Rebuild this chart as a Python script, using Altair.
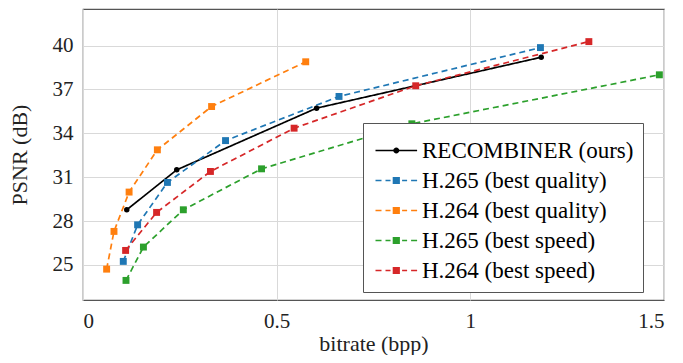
import altair as alt
import pandas as pd

series_names = [
    "RECOMBINER (ours)",
    "H.265 (best quality)",
    "H.264 (best quality)",
    "H.265 (best speed)",
    "H.264 (best speed)",
]
series_colors = ["#000000", "#1f77b4", "#ff7f0e", "#2ca02c", "#d62728"]

recombiner_bpp = [0.113, 0.242, 0.603, 1.183]
recombiner_psnr = [28.77, 31.5, 35.72, 39.2]

h265q_bpp = [0.104, 0.141, 0.218, 0.368, 0.661, 1.181]
h265q_psnr = [25.24, 27.74, 30.64, 33.5, 36.52, 39.86]

h264q_bpp = [0.061, 0.080, 0.119, 0.192, 0.332, 0.575]
h264q_psnr = [24.71, 27.29, 29.98, 32.87, 35.83, 38.89]

h265s_bpp = [0.111, 0.156, 0.259, 0.461, 0.849, 1.488]
h265s_psnr = [23.94, 26.22, 28.77, 31.57, 34.65, 38.0]

h264s_bpp = [0.110, 0.190, 0.329, 0.545, 0.859, 1.306]
h264s_psnr = [25.99, 28.59, 31.39, 34.35, 37.25, 40.27]

x_ticks = [0, 0.5, 1, 1.5]
y_ticks = [25, 28, 31, 34, 37, 40]

rows = []
for k, (xs, ys) in enumerate([
    (recombiner_bpp, recombiner_psnr),
    (h265q_bpp, h265q_psnr),
    (h264q_bpp, h264q_psnr),
    (h265s_bpp, h265s_psnr),
    (h264s_bpp, h264s_psnr),
]):
    name = series_names[k]
    for i, (x, y) in enumerate(zip(xs, ys)):
        rows.append({
            "series": name,
            "hex": series_colors[k],
            "bpp": x,
            "psnr": y,
            "order": i,
            "marker": "circle" if k == 0 else "square",
            "dashed": "solid" if k == 0 else "dashed",
        })
df = pd.DataFrame(rows)

# legend symbol glyphs (unit coordinates, scaled by sqrt(symbolSize)/2)
solid_glyph = (
    "M-1,-0.1 L4.2,-0.1 L4.2,0.1 L-1,0.1 Z "
    "M1.975,0 A0.375,0.375 0 1,1 1.225,0 A0.375,0.375 0 1,1 1.975,0 Z"
)
dash_glyph = (
    "M-1,-0.1 L-0.25,-0.1 L-0.25,0.1 L-1,0.1 Z "
    "M0.25,-0.1 L0.875,-0.1 L0.875,0.1 L0.25,0.1 Z "
    "M1.15,-0.45 L2.05,-0.45 L2.05,0.45 L1.15,0.45 Z "
    "M2.325,-0.1 L2.95,-0.1 L2.95,0.1 L2.325,0.1 Z "
    "M3.45,-0.1 L4.2,-0.1 L4.2,0.1 L3.45,0.1 Z"
)
glyphs = [solid_glyph] + [dash_glyph] * 4

FONT = "Liberation Serif"

x_enc = alt.X(
    "bpp:Q",
    scale=alt.Scale(domain=[0, 1.5], nice=False, zero=False),
    axis=alt.Axis(values=x_ticks, format="~g", title="bitrate (bpp)"),
)
y_enc = alt.Y(
    "psnr:Q",
    scale=alt.Scale(domain=[22.6, 42.5], nice=False, zero=False),
    axis=alt.Axis(values=y_ticks, title="PSNR (dB)"),
)

lines = alt.Chart(df).mark_line(strokeWidth=1.7).encode(
    x=x_enc,
    y=y_enc,
    color=alt.Color("hex:N", scale=None),
    strokeDash=alt.StrokeDash(
        "dashed:N",
        scale=alt.Scale(domain=["solid", "dashed"], range=[[1, 0], [6, 4]]),
        legend=None,
    ),
    detail="series:N",
    order="order:Q",
)

points = alt.Chart(df).mark_point(filled=True, opacity=1).encode(
    x=x_enc,
    y=y_enc,
    color=alt.Color("hex:N", scale=None),
    shape=alt.Shape("marker:N", scale=None),
    size=alt.Size(
        "marker:N",
        scale=alt.Scale(domain=["circle", "square"], range=[30, 48]),
        legend=None,
    ),
)

legend_spec = dict(
    title=" ",
    titleFontSize=6,
    titlePadding=1,
    orient="none",
    legendX=280,
    legendY=114,
    padding=9,
    strokeColor="#555555",
    fillColor="white",
    labelFont=FONT,
    labelFontSize=23,
    labelColor="black",
    labelLimit=400,
    labelOffset=27,
    symbolSize=256,
    rowPadding=6,
)

legend_layer = alt.Chart(df).mark_point(filled=True, opacity=0).encode(
    x=x_enc,
    y=y_enc,
    color=alt.Color(
        "series:N",
        scale=alt.Scale(domain=series_names, range=series_colors),
        legend=alt.Legend(**legend_spec),
    ),
    shape=alt.Shape(
        "series:N",
        scale=alt.Scale(domain=series_names, range=glyphs),
        legend=alt.Legend(**legend_spec),
    ),
)

chart = (
    alt.layer(lines, points, legend_layer)
    .properties(
        width=581,
        height=291,
        autosize=alt.AutoSizeParams(type="none"),
        padding={"left": 75, "top": 1, "right": 11, "bottom": 55},
    )
    .configure_view(stroke="#555555", strokeWidth=1.2)
    .configure_axis(
        grid=True,
        gridColor="#d9d9d9",
        gridWidth=1,
        domain=False,
        ticks=False,
        labelFont=FONT,
        labelFontSize=21,
        labelColor="#222222",
        labelPadding=10,
        titleFont=FONT,
        titleFontSize=22,
        titleFontWeight="normal",
        titleColor="#222222",
    )
    .configure_axisX(titlePadding=2)
    .configure_axisY(titlePadding=21)
)

chart.save("out.html", embed_options={"renderer": "svg", "actions": False})
